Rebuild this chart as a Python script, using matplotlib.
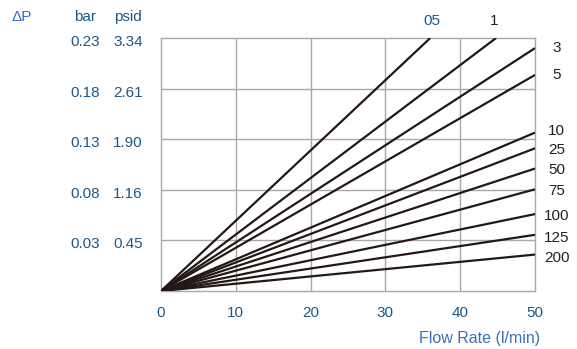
import matplotlib.pyplot as plt
from matplotlib import transforms

plt.rcParams['font.family'] = ['Liberation Sans', 'DejaVu Sans']

# pressure drop (grid units) at the end of each line, and flow at the end
series = ['05', '1', '3', '5', '10', '25', '50', '75', '100', '125', '200']
end_flow = [36.0, 44.8, 50, 50, 50, 50, 50, 50, 50, 50, 50]
end_dp = [5.0, 5.0, 4.80, 4.27, 3.13, 2.82, 2.42, 2.01, 1.52, 1.11, 0.72]

# label position in grid units for the series names at the right
label_dp = [None, None, 4.80, 4.27, 3.17, 2.78, 2.39, 1.97, 1.48, 1.05, 0.66]

grid_levels = [1, 2, 3, 4, 5]
bar_labels = ['0.03', '0.08', '0.13', '0.18', '0.23']
psid_labels = ['0.45', '1.16', '1.90', '2.61', '3.34']
x_ticks = [0, 10, 20, 30, 40, 50]

dark_blue = '#1d5887'
light_blue = '#3f6fb8'
line_col = '#231815'
fs = 11

fig = plt.figure(figsize=(5.77, 3.49), dpi=100)
ax = fig.add_axes([161 / 577, 1 - 291 / 349, 374 / 577, 253 / 349])
ax.set_xlim(0, 50)
ax.set_ylim(0, 5)

for x in x_ticks[1:-1]:
    ax.axvline(x, color='#a8a8a8', lw=1.0, zorder=1)
for y in grid_levels[:-1]:
    ax.axhline(y, color='#a8a8a8', lw=1.0, zorder=1)
for s in ax.spines.values():
    s.set_color('#a8a8a8')
    s.set_linewidth(1.0)

for name, fx, dp in zip(series, end_flow, end_dp):
    ax.plot([0, fx], [0, dp], color=line_col, lw=1.6, zorder=3,
            solid_capstyle='butt')

# series names
ax.text(36.0, 5.0, '05', color=dark_blue, fontsize=fs,
        ha='center', va='bottom', transform=ax.transData + transforms.ScaledTranslation(0.02, 0.1, fig.dpi_scale_trans))
ax.text(44.6, 5.0, '1', color='#222222', fontsize=fs,
        ha='center', va='bottom', transform=ax.transData + transforms.ScaledTranslation(0.0, 0.1, fig.dpi_scale_trans))
for name, ly in zip(series, label_dp):
    if ly is None:
        continue
    ax.text(52.9, ly, name, color='#222222', fontsize=fs,
            ha='center', va='center', clip_on=False)

ax.set_yticks([])
ax.set_xticks(x_ticks)
ax.set_xticklabels([str(v) for v in x_ticks], color=dark_blue, fontsize=fs)
ax.tick_params(axis='x', length=0, pad=11)

# two columns of pressure labels on the left
off = transforms.ScaledTranslation(0, -0.04, fig.dpi_scale_trans)
trans = transforms.blended_transform_factory(fig.transFigure, ax.transData) + off
for y, b, p in zip(grid_levels, bar_labels, psid_labels):
    ax.text(85 / 577, y, b, transform=trans, color=dark_blue, fontsize=fs,
            ha='center', va='center')
    ax.text(128 / 577, y, p, transform=trans, color=dark_blue, fontsize=fs,
            ha='center', va='center')

fig.text(85 / 577, 1 - 17 / 349, 'bar', color=dark_blue, fontsize=fs,
         ha='center', va='center')
fig.text(128 / 577, 1 - 17 / 349, 'psid', color=dark_blue, fontsize=fs,
         ha='center', va='center')
fig.text(22 / 577, 1 - 17 / 349, '\u0394P', color=light_blue, fontsize=fs,
         ha='center', va='center')
fig.text(480 / 577, 1 - 338 / 349, 'Flow Rate (l/min)', color=light_blue,
         fontsize=11.5, ha='center', va='center')

fig.savefig('out.png', dpi=100)
